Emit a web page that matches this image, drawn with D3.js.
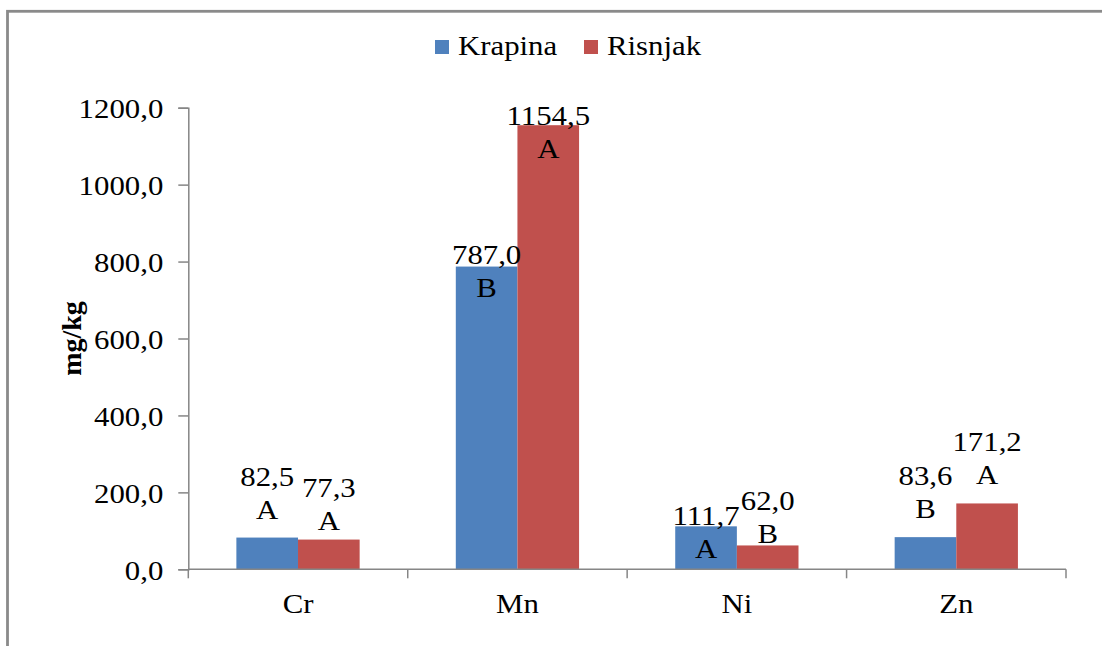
<!DOCTYPE html>
<html>
<head>
<meta charset="utf-8">
<script src="https://cdn.jsdelivr.net/npm/d3@7"></script>
<style>
  body { margin: 0; background: #fff; }
  text { font-family: "Liberation Serif", "Times New Roman", serif; fill: #000; }
</style>
</head>
<body>
<div class="chart"></div>
<script>
// chart values
const elements = ["Cr", "Mn", "Ni", "Zn"];
const seriesNames = ["Krapina", "Risnjak"];
const krapina = [82.5, 787.0, 111.7, 83.6];
const risnjak = [77.3, 1154.5, 62.0, 171.2];
const krapinaLetters = ["A", "B", "A", "B"];
const risnjakLetters = ["A", "A", "B", "A"];
const yTicks = [0, 200, 400, 600, 800, 1000, 1200];

// label placement (px above bar top of the letter line), Excel moved some of them
const liftKrapina = [19, -30, -32, 19];
const liftRisnjak = [10, -33, 2, 19];

const colors = ["#4F81BD", "#C0504D"];
const width = 1102, height = 646;
const plot = {left: 188.3, right: 1066, top: 107.7, bottom: 569.3};
const sx = 1.1;   // the source text is a bit wide
const fmt = v => d3.format(".1f")(v).replace(".", ",");

const svg = d3.select(".chart").append("svg")
    .attr("width", width)
    .attr("height", height);

// outer frame (only top and left show in the picture)
svg.append("rect")
    .attr("x", 7.5).attr("y", 11.3)
    .attr("width", width + 20).attr("height", height + 20)
    .attr("fill", "none")
    .attr("stroke", "#8a8a8a")
    .attr("stroke-width", 2.8);

const xScale = d3.scaleBand().domain(elements).range([plot.left, plot.right]);
const xInner = d3.scaleBand().domain(seriesNames)
    .range([0, xScale.bandwidth()])
    .paddingInner(0).paddingOuter(0.78);
const yScale = d3.scaleLinear().domain([0, 1200]).range([plot.bottom, plot.top]);

// y axis
const yAxis = svg.append("g")
    .attr("transform", `translate(${plot.left},0)`)
    .call(d3.axisLeft(yScale).tickValues(yTicks).tickSize(10).tickFormat(fmt));
yAxis.select(".domain").attr("stroke", "#868686").attr("stroke-width", 1.5);
yAxis.selectAll(".tick line").attr("stroke", "#868686").attr("stroke-width", 1.5);
yAxis.selectAll(".tick text")
    .attr("x", 0).attr("dy", null)
    .attr("transform", `translate(-25,10) scale(${sx},1)`)
    .attr("text-anchor", "end")
    .style("font-size", "28px")
    .style("font-family", "Liberation Serif");

// bars
const series = [krapina, risnjak];
const letters = [krapinaLetters, risnjakLetters];
const lifts = [liftKrapina, liftRisnjak];

series.forEach((vals, s) => {
    svg.selectAll(".bar-" + s)
        .data(vals)
        .enter()
        .append("rect")
        .attr("class", "bar-" + s)
        .attr("x", (d, i) => xScale(elements[i]) + xInner(seriesNames[s]))
        .attr("y", d => yScale(d))
        .attr("width", xInner.bandwidth())
        .attr("height", d => plot.bottom - yScale(d))
        .attr("fill", colors[s]);
});

// x axis line and category ticks
svg.append("line")
    .attr("x1", plot.left).attr("x2", plot.right)
    .attr("y1", plot.bottom).attr("y2", plot.bottom)
    .attr("stroke", "#868686").attr("stroke-width", 1.5);

const xTicks = elements.map(e => xScale(e)).concat([plot.right]);
svg.selectAll(".xtick")
    .data(xTicks)
    .enter()
    .append("line")
    .attr("x1", d => d).attr("x2", d => d)
    .attr("y1", plot.bottom).attr("y2", plot.bottom + 9)
    .attr("stroke", "#868686").attr("stroke-width", 1.5);

svg.selectAll(".xlabel")
    .data(elements)
    .enter()
    .append("text")
    .attr("transform", d => `translate(${xScale(d) + xScale.bandwidth() / 2},613) scale(${sx},1)`)
    .attr("text-anchor", "middle")
    .style("font-size", "28px")
    .text(d => d);

// data labels: value on first line, letter under it
series.forEach((vals, s) => {
    vals.forEach((v, i) => {
        const cx = xScale(elements[i]) + xInner(seriesNames[s]) + xInner.bandwidth() / 2;
        const letterY = yScale(v) - lifts[s][i];
        svg.append("text")
            .attr("transform", `translate(${cx},${letterY - 33}) scale(${sx},1)`)
            .attr("text-anchor", "middle")
            .style("font-size", "28px")
            .text(fmt(v));
        svg.append("text")
            .attr("transform", `translate(${cx},${letterY}) scale(${sx},1)`)
            .attr("text-anchor", "middle")
            .style("font-size", "28px")
            .text(letters[s][i]);
    });
});

// y title
svg.append("text")
    .attr("transform", `translate(81,${(plot.top + plot.bottom) / 2}) rotate(-90)`)
    .attr("text-anchor", "middle")
    .style("font-size", "28px")
    .style("font-weight", "bold")
    .text("mg/kg");

// legend
const legendX = [435, 584];
seriesNames.forEach((name, s) => {
    svg.append("rect")
        .attr("x", legendX[s]).attr("y", 40)
        .attr("width", 14).attr("height", 14)
        .attr("fill", colors[s]);
    svg.append("text")
        .attr("transform", `translate(${legendX[s] + 23},55) scale(${sx},1)`)
        .style("font-size", "28px")
        .text(name);
});
</script>
</body>
</html>
